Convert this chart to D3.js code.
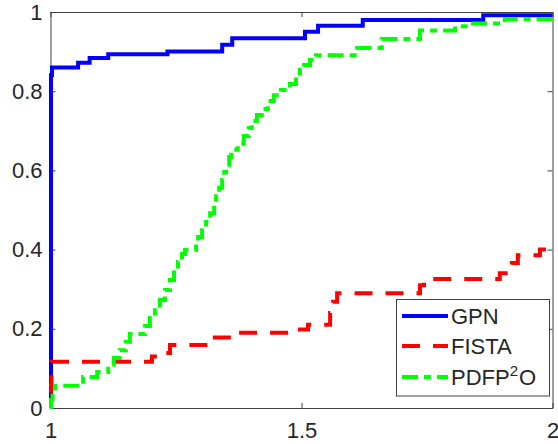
<!DOCTYPE html>
<html><head><meta charset="utf-8">
<script src="https://cdn.jsdelivr.net/npm/d3@7"></script>
<style>body{margin:0;background:#fff}svg{display:block}text{font-family:"Liberation Sans",Arial,sans-serif;fill:#262626}</style>
</head><body>
<script>
const seriesNames = ["GPN", "FISTA", "PDFP2O"];
const gpnX = [1, 1.001, 1.003, 1.055, 1.078, 1.115, 1.233, 1.342, 1.362, 1.507, 1.533, 1.622, 1.862, 2];
const gpnY = [0, 0.84, 0.86, 0.872, 0.884, 0.893, 0.900, 0.917, 0.934, 0.950, 0.965, 0.980, 0.992, 0.992];
const fistaX = [1, 1.001, 1.002, 1.202, 1.222, 1.238, 1.318, 1.361, 1.475, 1.513, 1.557, 1.563, 1.571, 1.736, 1.744, 1.895, 1.919, 1.931, 1.975, 2];
const fistaY = [0.04, 0.056, 0.117, 0.13, 0.139, 0.159, 0.178, 0.190, 0.198, 0.21, 0.24, 0.268, 0.29, 0.31, 0.326, 0.34, 0.366, 0.386, 0.40, 0.40];
const pdfpX = [1, 1.001, 1.004, 1.009, 1.065, 1.093, 1.115, 1.126, 1.138, 1.150, 1.158, 1.188, 1.198, 1.208, 1.218, 1.228, 1.238, 1.246, 1.254, 1.262, 1.268, 1.290, 1.294, 1.302, 1.310, 1.318, 1.326, 1.330, 1.336, 1.342, 1.346, 1.350, 1.356, 1.360, 1.373, 1.385, 1.395, 1.401, 1.411, 1.421, 1.433, 1.445, 1.459, 1.477, 1.489, 1.497, 1.505, 1.517, 1.529, 1.611, 1.660, 1.736, 1.806, 1.832, 1.905, 2];
const pdfpY = [0, 0.02, 0.038, 0.056, 0.078, 0.091, 0.109, 0.126, 0.146, 0.167, 0.187, 0.207, 0.227, 0.247, 0.273, 0.298, 0.323, 0.348, 0.369, 0.389, 0.399, 0.414, 0.432, 0.449, 0.470, 0.492, 0.518, 0.535, 0.556, 0.576, 0.596, 0.614, 0.634, 0.652, 0.667, 0.687, 0.707, 0.725, 0.740, 0.755, 0.775, 0.790, 0.803, 0.818, 0.838, 0.854, 0.866, 0.879, 0.891, 0.909, 0.932, 0.953, 0.964, 0.971, 0.982, 0.982];
const xTicks = [1, 1.5, 2];
const xTickLabels = ["1", "1.5", "2"];
const yTicks = [0, 0.2, 0.4, 0.6, 0.8, 1];
const yTickLabels = ["0", "0.2", "0.4", "0.6", "0.8", "1"];

const W = 558, H = 444;
const L = 50.5, R = 552.5, T = 12, B = 408;
const x = d3.scaleLinear().domain([1, 2]).range([L, R]);
const y = d3.scaleLinear().domain([0, 1]).range([B, T]);

const svg = d3.select("body").append("svg").attr("width", W).attr("height", H);

svg.append("defs").append("clipPath").attr("id", "clip")
  .append("rect").attr("x", L - 3).attr("y", T - 1).attr("width", R - L + 4).attr("height", B - T + 2);

const axisColor = "#404040";
const fs = 22;

// axes
const gB = svg.append("g").attr("transform", `translate(0,${B})`)
  .call(d3.axisBottom(x).tickValues(xTicks).tickFormat((d, i) => xTickLabels[i]).tickSizeInner(-5).tickSizeOuter(0).tickPadding(14));
const gT = svg.append("g").attr("transform", `translate(0,${T})`)
  .call(d3.axisTop(x).tickValues(xTicks).tickFormat("").tickSizeInner(-5).tickSizeOuter(0));
const gL = svg.append("g").attr("transform", `translate(${L},0)`)
  .call(d3.axisLeft(y).tickValues(yTicks).tickFormat((d, i) => yTickLabels[i]).tickSizeInner(-5).tickSizeOuter(0).tickPadding(8));
const gR = svg.append("g").attr("transform", `translate(${R},0)`)
  .call(d3.axisRight(y).tickValues(yTicks).tickFormat("").tickSizeInner(-5).tickSizeOuter(0));
[gB, gT, gL, gR].forEach(g => {
  g.selectAll("path.domain").attr("stroke", axisColor).attr("stroke-width", 1);
  g.selectAll(".tick line").attr("stroke", axisColor).attr("stroke-width", 1);
  g.selectAll("text").attr("font-size", fs).attr("font-family", "Liberation Sans, Arial, sans-serif").attr("fill", "#262626");
});
gB.selectAll("text").attr("dy", "0.71em");

// series
const line = d3.line().x(d => x(d[0])).y(d => y(d[1])).curve(d3.curveStepAfter);
const series = [
  {name: seriesNames[0], xs: gpnX, ys: gpnY, color: "#0000ff", dash: null},
  {name: seriesNames[1], xs: fistaX, ys: fistaY, color: "#ff0000", dash: "18,13"},
  {name: seriesNames[2], xs: pdfpX, ys: pdfpY, color: "#00ff00", dash: "16,6,7,6"}
];
const gLines = svg.append("g").attr("clip-path", "url(#clip)");
series.forEach(s => {
  const pts = s.xs.map((v, i) => [v, s.ys[i]]);
  gLines.append("path").datum(pts).attr("d", line)
    .attr("fill", "none").attr("stroke", s.color).attr("stroke-width", 4)
    .attr("stroke-dasharray", s.dash).attr("stroke-linejoin", "miter");
});

// legend
const lg = svg.append("g");
lg.append("rect").attr("x", 396.5).attr("y", 299.5).attr("width", 153).attr("height", 96.5)
  .attr("fill", "#fff").attr("stroke", axisColor).attr("stroke-width", 1);
const rowsY = [316, 346, 377];
series.forEach((s, i) => {
  lg.append("line").attr("x1", 402).attr("x2", 448).attr("y1", rowsY[i]).attr("y2", rowsY[i])
    .attr("stroke", s.color).attr("stroke-width", 4).attr("stroke-dasharray", s.dash);
  const t = lg.append("text").attr("x", 451).attr("y", rowsY[i] + 8)
    .attr("font-size", fs).attr("fill", "#000");
  if (i === 2) {
    t.append("tspan").text("PDFP");
    t.append("tspan").attr("font-size", 15).attr("dx", 0).attr("dy", -9).text("2");
    t.append("tspan").attr("dx", 1).attr("dy", 9).attr("font-size", fs).text("O");
  } else {
    t.text(s.name);
  }
});
</script>
</body></html>
